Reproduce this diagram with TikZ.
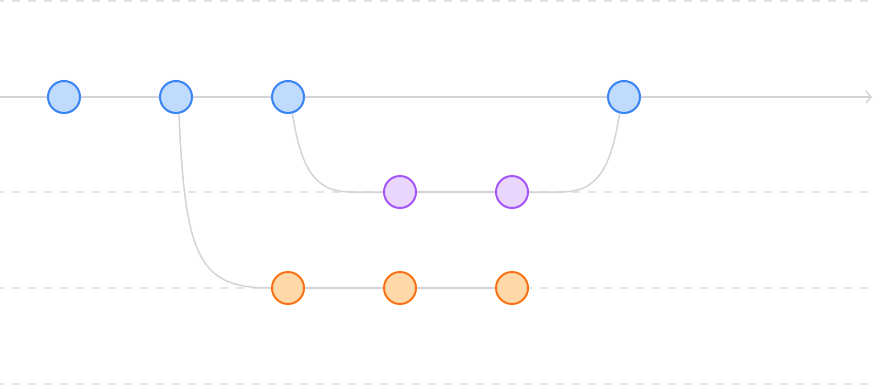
\documentclass[tikz,border=0pt]{standalone}
\usetikzlibrary{arrows.meta,backgrounds}
\definecolor{bluefill}{HTML}{BFDBFE}
\definecolor{bluedraw}{HTML}{3B82F6}
\definecolor{purplefill}{HTML}{E9D5FF}
\definecolor{purpledraw}{HTML}{A855F7}
\definecolor{orangefill}{HTML}{FED7AA}
\definecolor{orangedraw}{HTML}{F97316}
\definecolor{linegray}{HTML}{D4D4D8}
\definecolor{dashgray}{HTML}{E4E4E7}
\tikzset{
  commit/.style={circle, minimum size=32pt, inner sep=0pt, line width=2pt},
  bluec/.style={commit, fill=bluefill, draw=bluedraw},
  purplec/.style={commit, fill=purplefill, draw=purpledraw},
  orangec/.style={commit, fill=orangefill, draw=orangedraw},
  lane/.style={draw=dashgray, line width=1.5pt, dash pattern=on 8pt off 8pt, dash phase=4pt},
  branch/.style={draw=linegray, line width=1.5pt},
}
\begin{document}
\begin{tikzpicture}[x=1pt, y=-1pt]
\useasboundingbox (0,0) rectangle (873,386);
% commits
\path (64,97) node[bluec] (m1) {}
      (176,97) node[bluec] (m2) {}
      (288,97) node[bluec] (m3) {}
      (624,97) node[bluec] (m4) {}
      (400,192) node[purplec] (p1) {}
      (512,192) node[purplec] (p2) {}
      (288,288) node[orangec] (o1) {}
      (400,288) node[orangec] (o2) {}
      (512,288) node[orangec] (o3) {};
\begin{pgfonlayer}{background}
% lanes
\coordinate (l0a) at (0,1);   \coordinate (l0b) at (873,1);
\coordinate (l1a) at (0,192); \coordinate (l1b) at (873,192);
\coordinate (l2a) at (0,288); \coordinate (l2b) at (873,288);
\coordinate (l3a) at (0,384); \coordinate (l3b) at (873,384);
\draw[lane] (l0a) -- (l0b);
\draw[lane] (l1a) -- (l1b);
\draw[lane] (l2a) -- (l2b);
\draw[lane] (l3a) -- (l3b);
% main line
\coordinate (mstart) at (0,97);
\coordinate (mend) at (872,97);
\draw[branch, -{Straight Barb[length=5pt,width=12pt,line width=1.5pt]}] (mstart) -- (mend);
% branches
\draw[branch] (m2.-80) .. controls (185,260) and (200,288) .. (o1.west);
\draw[branch] (m3.-75) .. controls (302,175) and (318,192) .. (352,192) -- (p1.west);
\draw[branch] (p1) -- (p2);
\draw[branch] (p2.east) -- (560,192) .. controls (594,192) and (610,175) .. (m4.-105);
\draw[branch] (o1) -- (o2) -- (o3);
\end{pgfonlayer}
\end{tikzpicture}
\end{document}
